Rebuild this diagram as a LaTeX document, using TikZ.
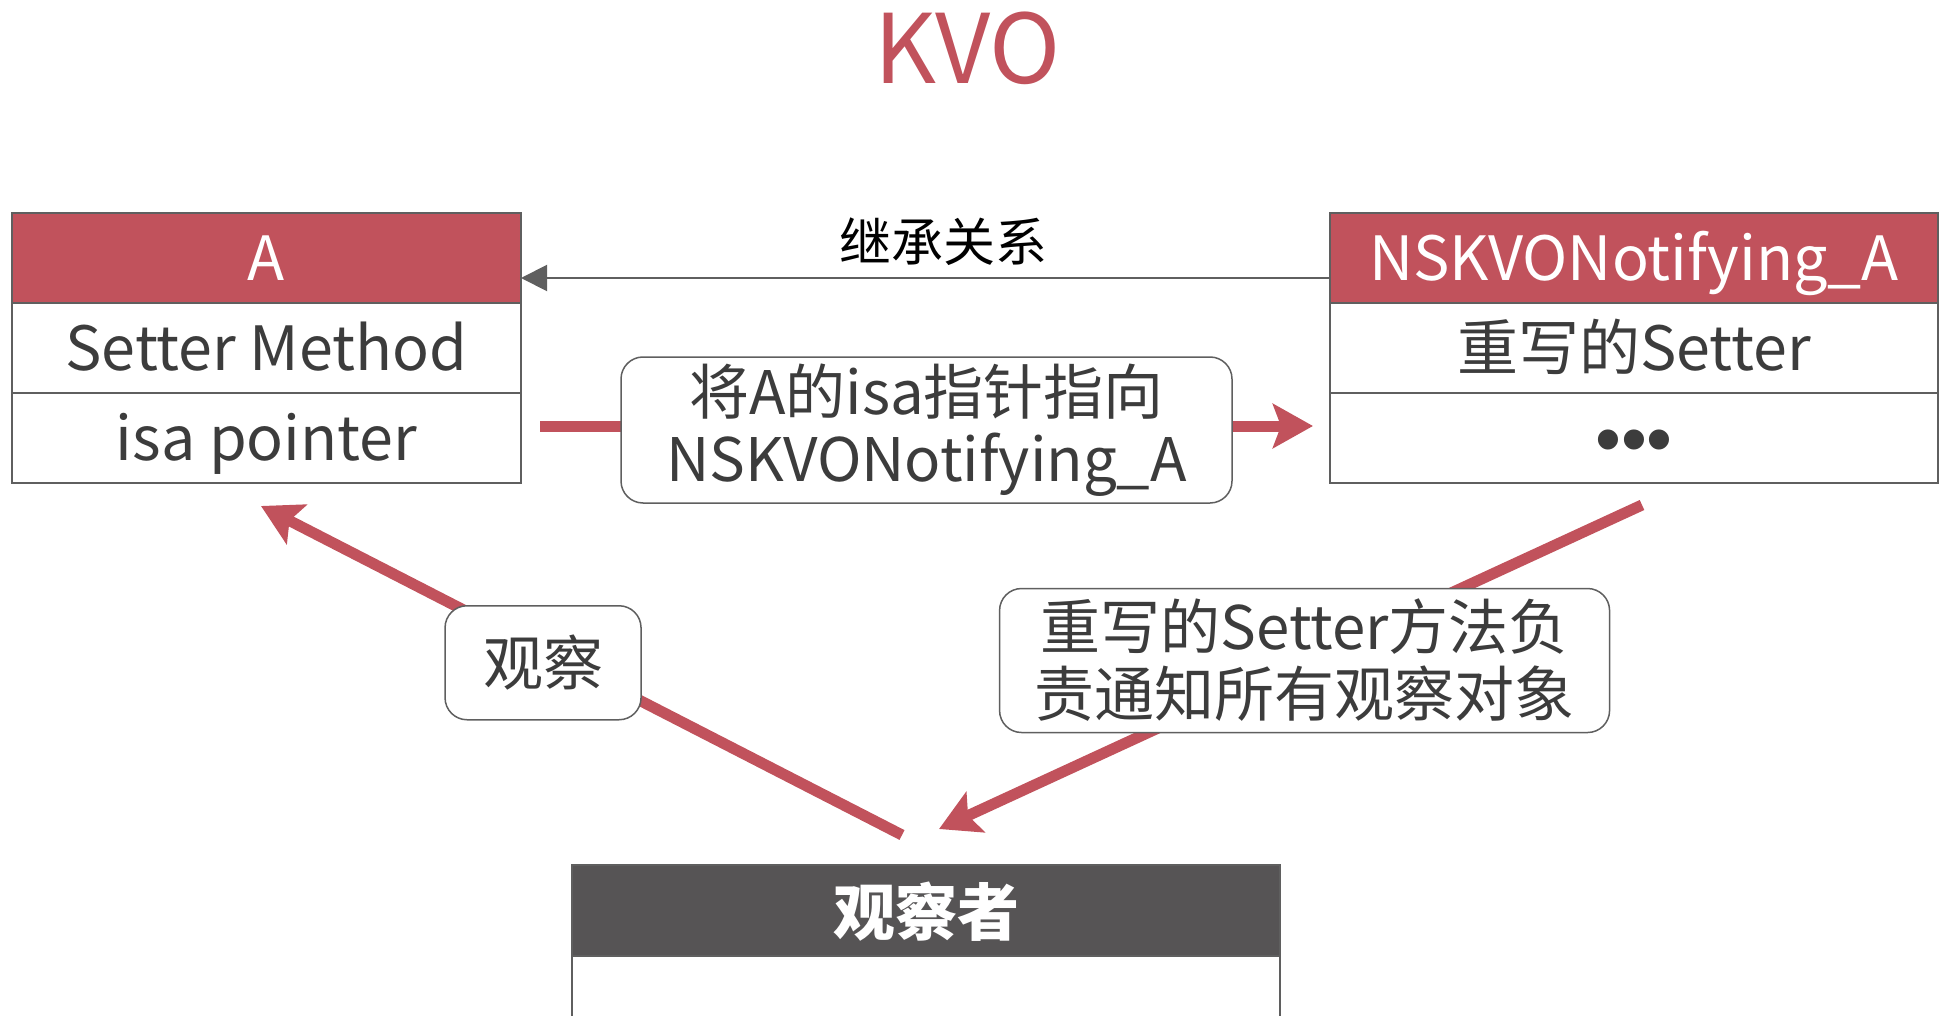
\documentclass[tikz,border=0pt]{standalone}
\usepackage{fontspec}
\setmainfont{Noto Sans CJK SC}
\newfontfamily\dotfont{Liberation Sans}
\usetikzlibrary{positioning, arrows.meta, calc}

\definecolor{kvored}{RGB}{193,82,92}
\definecolor{kvodark}{RGB}{86,84,85}
\definecolor{kvogray}{RGB}{95,95,95}
\definecolor{kvotext}{RGB}{60,60,60}

\tikzset{
  cell/.style={draw=kvogray, line width=1.5pt, fill=white, minimum height=90pt,
    inner sep=0pt, outer sep=0pt, text=kvotext, text height=45pt, text depth=0pt,
    font=\fontsize{61}{68}\selectfont},
  hdr/.style={cell, fill=kvored, text=white},
  darkhdr/.style={cell, fill=kvodark, text=white, text height=49pt,
    font=\fontsize{62}{68}\selectfont\bfseries},
  lbl/.style={draw=kvogray, line width=1.5pt, fill=white, rounded corners=22pt,
    align=center, inner sep=0pt, text=kvotext, font=\fontsize{60}{67}\selectfont},
  redarrow/.style={draw=kvored, line width=11pt, -{Stealth[length=40pt, width=44pt, inset=8pt]}},
  inherit/.style={draw=kvogray, line width=2pt, -{Triangle[length=26pt, width=26pt]}}
}

\begin{document}
\begin{tikzpicture}[x=1pt, y=-1pt]
    \useasboundingbox (0,0) rectangle (1946,1016);
    \clip (0,0) rectangle (1946,1016);

    \node (title) at (968,51) [text=kvored, inner sep=0pt, text height=66pt, text depth=0pt,
      font=\fontsize{96}{100}\selectfont] {KVO};

    % class A
    \node (ah) at (266.5,258) [hdr, minimum width=509pt] {A};
    \node (a1) [cell, minimum width=509pt, below=0pt of ah] {Setter Method};
    \node (a2) [cell, minimum width=509pt, below=0pt of a1] {isa pointer};

    % NSKVONotifying_A
    \node (nsh) at (1634,258) [hdr, minimum width=608pt] {NSKVONotifying\_A};
    \node (ns1) [cell, minimum width=608pt, below=0pt of nsh] {重写的Setter};
    \node (ns2) [cell, minimum width=608pt, text height=52pt, below=0pt of ns1,
      font=\fontsize{74}{80}\dotfont] {•••};

    % observer
    \node (obsh) at (926,910.5) [darkhdr, minimum width=708pt, minimum height=91pt] {观察者};
    \node (obs1) [cell, minimum width=708pt, minimum height=100pt, below=0pt of obsh] {};

    \draw[inherit] ($(nsh.west)+(0,20)$) -- ($(ah.east)+(0,20)$);
    \node (lblinherit) at (943,242) [text=black, font=\fontsize{52}{58}\selectfont] {继承关系};

    \draw[redarrow] ($(a2.east)+(19,-12)$) -- node[lbl, minimum width=611pt, minimum height=146pt, yshift=-4pt] (lblisa)
      {将A的isa指针指向\\NSKVONotifying\_A} ($(ns2.west)+(-17,-12)$);

    \draw[redarrow] ($(obsh.north)+(-24,-30)$) -- node[lbl, pos=0.56, yshift=-12pt, minimum width=196pt, minimum height=114pt] (lblobserve)
      {观察} ($(a2.south)+(-5.5,23)$);

    \draw[redarrow] ($(ns2.south)+(8,22)$) -- node[lbl, pos=0.48, minimum width=610pt, minimum height=144pt] (lblnotify)
      {重写的Setter方法负\\责通知所有观察对象} ($(obsh.north)+(13,-36)$);
\end{tikzpicture}
\end{document}
